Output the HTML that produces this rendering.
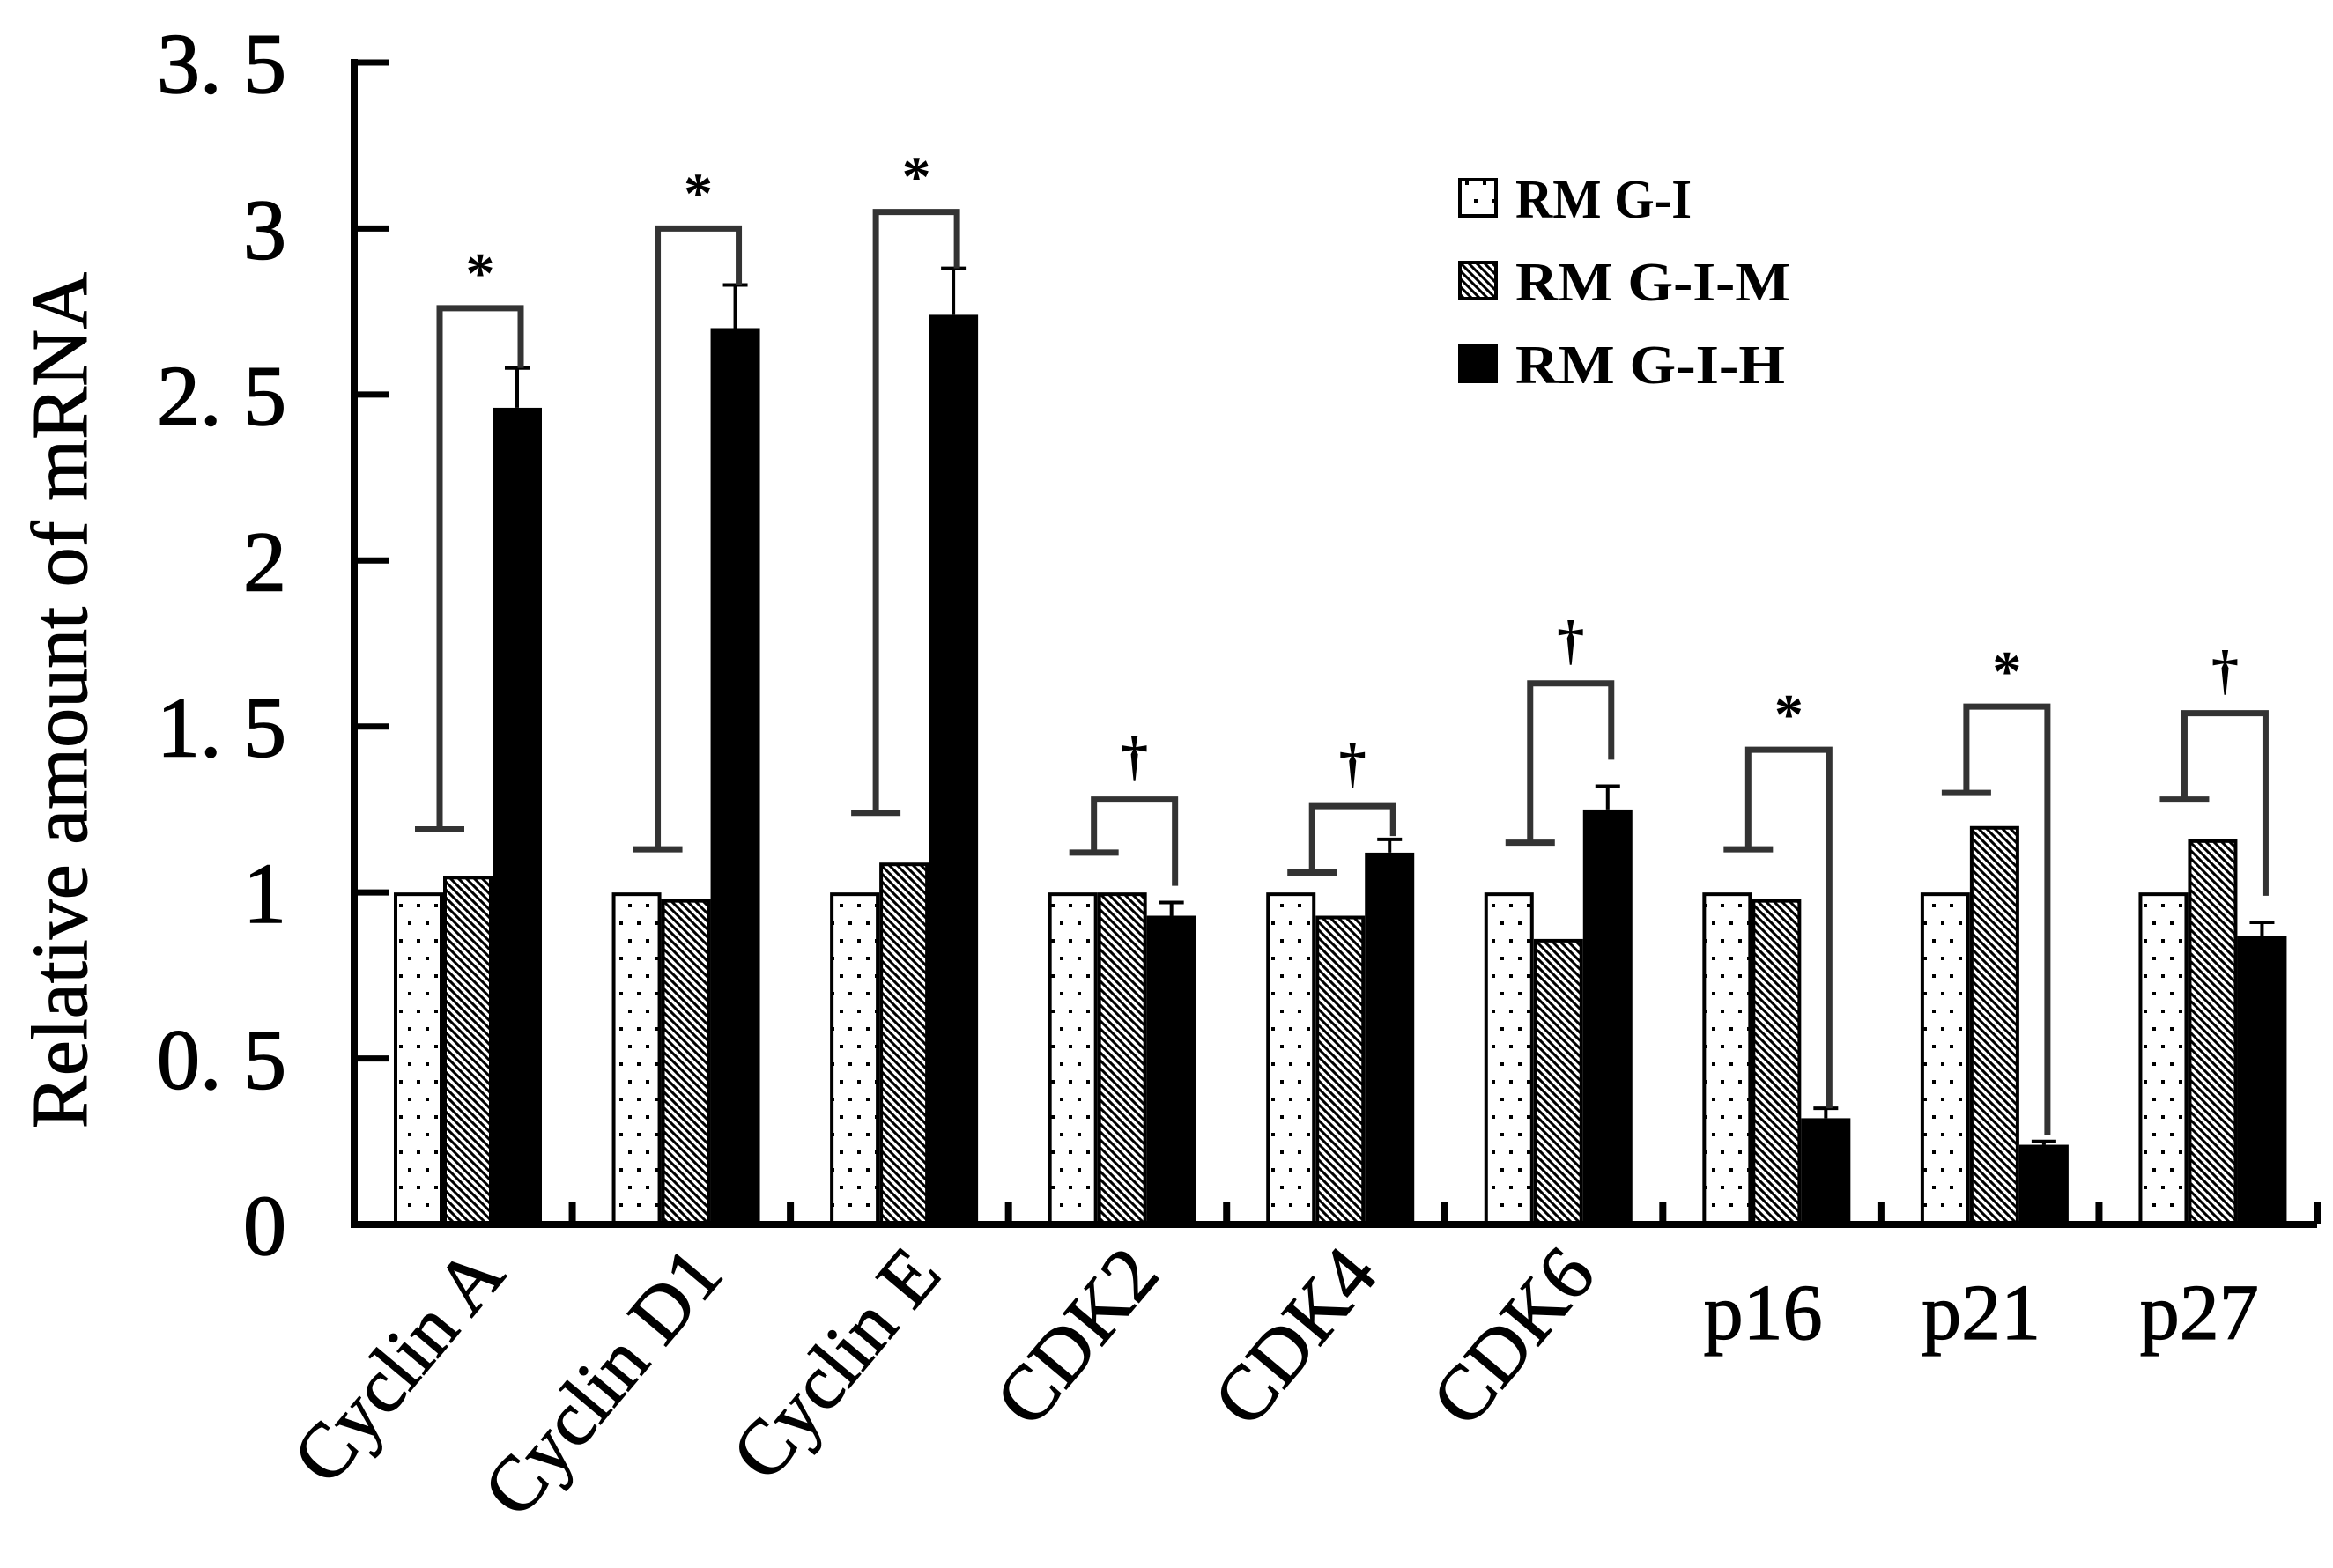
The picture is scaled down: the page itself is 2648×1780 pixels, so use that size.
<!DOCTYPE html>
<html><head><meta charset="utf-8"><style>
html,body{margin:0;padding:0;background:#fff;}
svg{display:block;}
text{font-family:"Liberation Serif",serif;fill:#000;}
</style></head><body>
<svg id="chart" width="2648" height="1780" viewBox="0 0 2648 1780">
<defs>
<pattern id="dots" width="20" height="40" patternUnits="userSpaceOnUse">
<rect x="3" y="6" width="4" height="4" fill="#000"/><rect x="13" y="26" width="4" height="4" fill="#000"/>
</pattern>
<pattern id="hatch" width="9" height="9" patternUnits="userSpaceOnUse">
<rect width="9" height="9" fill="#fff"/>
<path d="M-2,-2 L11,11 M-2,7 L2,11 M7,-2 L11,2" stroke="#000" stroke-width="3"/>
</pattern>
</defs>
<g id="plot"></g>
</svg>
<script>
const categories = ["Cyclin A","Cyclin D1","Cyclin E","CDK2","CDK4","CDK6","p16","p21","p27"];
const seriesNames = ["RM G-I","RM G-I-M","RM G-I-H"];
const valuesI = [1,1,1,1,1,1,1,1,1];
const valuesM = [1.05,0.98,1.09,1.0,0.93,0.86,0.98,1.2,1.16];
const valuesH = [2.46,2.70,2.74,0.93,1.12,1.25,0.32,0.24,0.87];
const errH = [0.12,0.13,0.14,0.04,0.04,0.07,0.03,0.01,0.04];
const bracketFoot = [1.19,1.13,1.24,1.12,1.06,1.15,1.13,1.30,1.28];
const bracketTop = [2.76,3.0,3.05,1.28,1.26,1.63,1.43,1.56,1.54];
const bracketDrop = [2.58,2.83,2.88,1.02,1.17,1.40,0.35,0.27,0.99];
const marks = ["*","*","*","\u2020","\u2020","\u2020","*","*","\u2020"];
const yTicks = [0,0.5,1,1.5,2,2.5,3,3.5];
const yTickLabels = ["0","0. 5","1","1. 5","2","2. 5","3","3. 5"];

const NS="http://www.w3.org/2000/svg";
const g=document.getElementById('plot');
const X0=402, X1=2630, Y0=1390, YMAX=3.5, YTOP=71;
const catW=(X1-X0)/categories.length;
function y(v){return Y0-(v/YMAX)*(Y0-YTOP);}
function catX(i){return X0+i*catW;}
function barX(i,s){return catX(i)+45+s*56;}
const BW=56;
function el(tag,attrs,parent){const e=document.createElementNS(NS,tag);for(const k in attrs)e.setAttribute(k,attrs[k]);(parent||g).appendChild(e);return e;}

const series=[valuesI,valuesM,valuesH];
const fills=["url(#dots)","url(#hatch)","#000"];
const sNames=["bar-rmg-i","bar-rmg-i-m","bar-rmg-i-h"];
categories.forEach((c,i)=>{
  series.forEach((vals,s)=>{
    const top=y(vals[i]);
    if(s<2){const bg=el('rect',{x:barX(i,s),y:top,width:BW,height:Y0-top,fill:'#fff'});
      
      }
    const r=el('rect',{x:barX(i,s)+2,y:top+2,width:BW-4,height:Y0-top-2,fill:fills[s],stroke:'#000','stroke-width':4});
    
    
  });
  const cx=barX(i,2)+BW/2, et=y(valuesH[i]+errH[i]);
  const eb=el('path',{d:`M${cx},${y(valuesH[i])} L${cx},${et} M${cx-14},${et} L${cx+14},${et}`,stroke:'#000','stroke-width':4,fill:'none'});
  
  
  const lx=barX(i,1)-4, rx=barX(i,2)+BW/2+4;
  const fy=y(bracketFoot[i]), ty=y(bracketTop[i]), dy=y(bracketDrop[i]);
  const br=el('path',{d:`M${lx-28},${fy} L${lx+28},${fy} M${lx},${fy} L${lx},${ty} L${rx},${ty} L${rx},${dy}`,stroke:'#333','stroke-width':7,fill:'none'});
  
  
  const mk=el('text',{x:(lx+rx)/2,y:ty-(marks[i]==='*'?18:28),'text-anchor':'middle','font-size':marks[i]==='*'?66:62,'font-weight':'bold'});
  mk.textContent=marks[i];
  
  
  const cc=catX(i)+catW/2;
  let t;
  if(i<6){
    t=el('text',{x:0,y:0,'text-anchor':'end','font-size':88,stroke:'#000','stroke-width':1.2,transform:`translate(${cc+50},${1448}) rotate(-50)`});
  } else {
    t=el('text',{x:cc-10,y:1520,'text-anchor':'middle','font-size':90,stroke:'#000','stroke-width':1.2});
  }
  t.textContent=c;
  
  
});

const ya=el('line',{x1:X0,y1:YTOP-4,x2:X0,y2:Y0+4,stroke:'#000','stroke-width':8});


const xa=el('line',{x1:X0-4,y1:Y0,x2:X1,y2:Y0,stroke:'#000','stroke-width':8});


yTicks.forEach((v,k)=>{
  const tk=el('line',{x1:X0,y1:y(v),x2:X0+40,y2:y(v),stroke:'#000','stroke-width':7});
  
  
  const tl=el('text',{x:325,y:y(v)+34,'text-anchor':'end','font-size':98,stroke:'#000','stroke-width':1.5});
  tl.textContent=yTickLabels[k];
  
  
});
for(let i=1;i<=categories.length;i++){
  const tk=el('line',{x1:catX(i),y1:Y0,x2:catX(i),y2:Y0-26,stroke:'#000','stroke-width':8});
  
  
}
const yt=el('text',{x:0,y:0,'text-anchor':'middle','font-size':90,stroke:'#000','stroke-width':1,transform:'translate(98,795) rotate(-90)'});
yt.textContent='Relative amount of mRNA';



seriesNames.forEach((n,s)=>{
  const ly=202+s*94;
  const sw=el('rect',{x:1657,y:ly+2,width:41,height:41,fill:fills[s],stroke:'#000','stroke-width':4});
  
  
  const lt=el('text',{x:1720,y:ly+45,'font-size':62,'font-weight':'bold',textLength:s===0?200:(s===1?312:306),lengthAdjust:'spacingAndGlyphs'});
  lt.textContent=n;
  
  
});
</script>
</body></html>
